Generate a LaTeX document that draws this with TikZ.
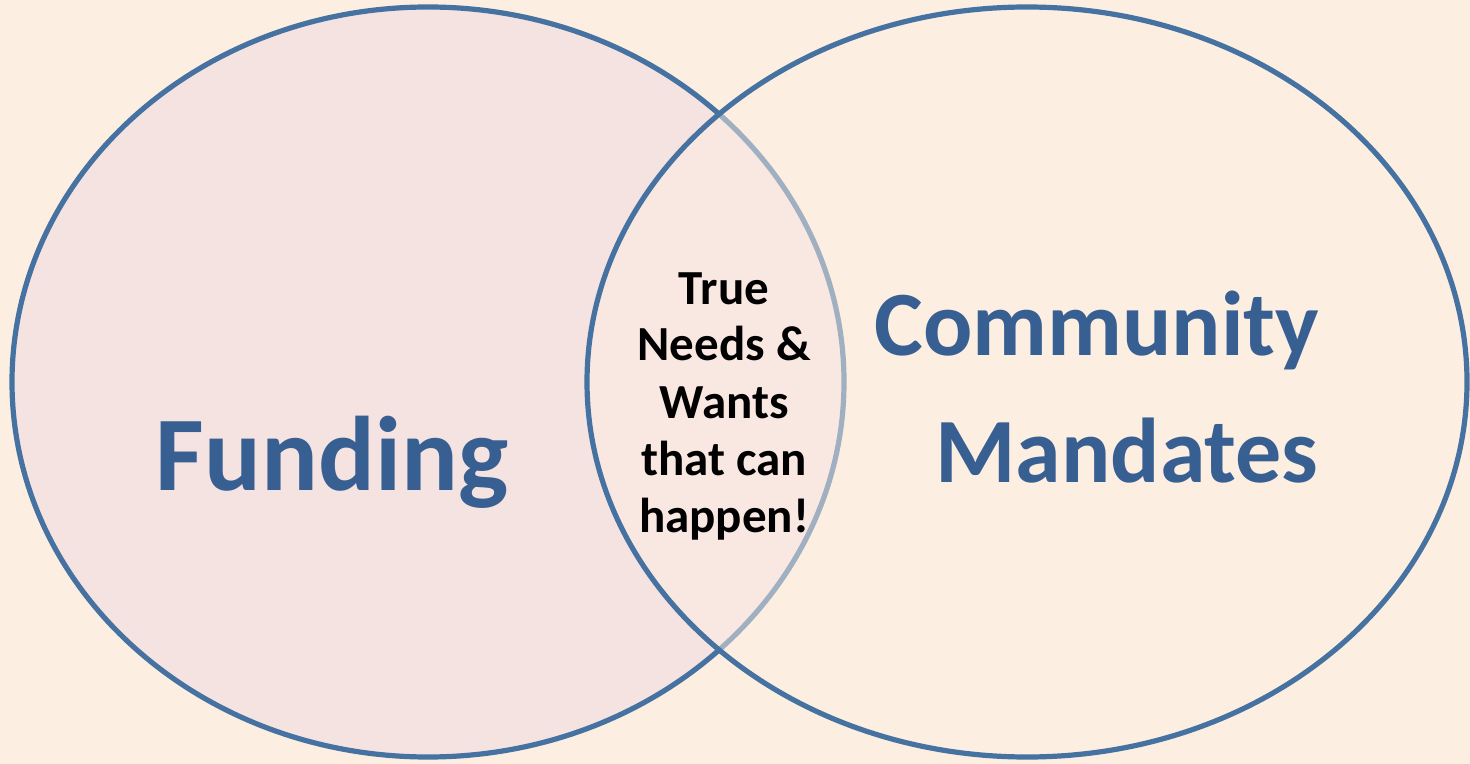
\documentclass[tikz,border=0pt]{standalone}
\usepackage{fontspec}
\setmainfont{Carlito}
\usetikzlibrary{shapes.geometric}
\definecolor{bgpeach}{HTML}{FDEEE2}
\definecolor{pinkfill}{HTML}{F5E3E2}
\definecolor{outline}{HTML}{4572A0}
\definecolor{titleblue}{HTML}{375F92}
\begin{document}
\begin{tikzpicture}[x=0.5pt,y=-0.5pt,
  venn/.style={ellipse, inner sep=0pt, line width=2.6pt, draw=outline},
  bigword/.style={anchor=base, text=titleblue, font=\bfseries\fontsize{#1}{#1}\selectfont},
  midword/.style={anchor=base, text=black, font=\bfseries\fontsize{24.5pt}{24.5pt}\selectfont}]
\fill[bgpeach] (0,0) rectangle (1470,764);
\useasboundingbox (0,0) rectangle (1470,764);
\node[venn, fill=pinkfill, minimum width=416pt, minimum height=375pt] (funding) at (428,382) {};
\node[venn, fill=bgpeach, fill opacity=0.5, minimum width=440pt, minimum height=375pt] (mandates) at (1027,382) {};
\node[bigword=53pt] (fword) at (332,490) {Funding};
\node[bigword=46pt] (cword) at (1097,356) {Community};
\node[bigword=46pt] (mword) at (1127,482) {Mandates};
\node[midword] (l1) at (724,305) {True};
\node[midword] (l2) at (724,360) {Needs \&};
\node[midword] (l3) at (724,418) {Wants};
\node[midword] (l4) at (724,475) {that can};
\node[midword] (l5) at (724,532) {happen!};
\end{tikzpicture}
\end{document}
